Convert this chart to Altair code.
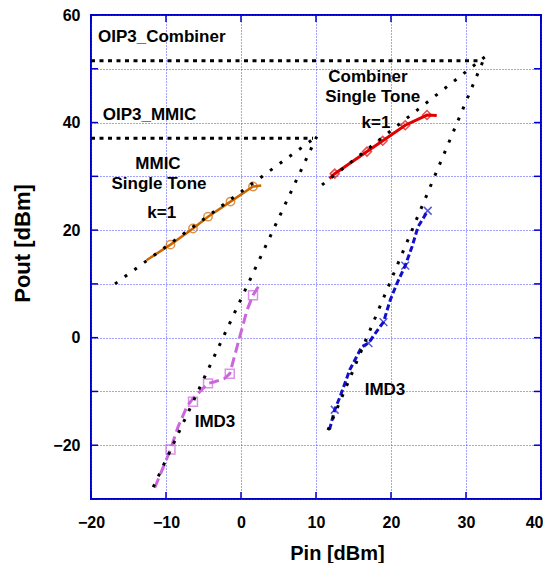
import altair as alt
import pandas as pd

FONT = "Liberation Sans"

# ---- data ----
# MMIC single tone (orange)
mmic_st_x = [-12.6, -9.4, -6.4, -4.4, -1.4, 1.6, 2.7]
mmic_st_y = [14.4, 17.3, 20.3, 22.5, 25.3, 28.1, 28.3]
mmic_st_mx = [-9.4, -6.4, -4.4, -1.4, 1.6]
mmic_st_my = [17.3, 20.3, 22.5, 25.3, 28.1]

# Combiner single tone (red)
comb_st_x = [11.8, 12.5, 16.8, 18.9, 21.9, 24.8, 26.1]
comb_st_y = [29.6, 30.5, 34.6, 36.6, 39.5, 41.4, 41.3]
comb_st_mx = [12.5, 16.8, 18.9, 21.9, 24.8]
comb_st_my = [30.5, 34.6, 36.6, 39.5, 41.4]

# MMIC IMD3 (violet)
mmic_imd_x = [-11.5, -9.4, -8.4, -7.2, -6.4, -4.4, -3.5, -2.2, -1.5, 0.8, 1.6, 2.6]
mmic_imd_y = [-27.9, -20.8, -16.6, -12.8, -11.3, -8.5, -8.2, -7.6, -6.7, 5.1, 7.9, 10.1]
mmic_imd_mx = [-9.4, -6.4, -4.4, -1.5, 1.6]
mmic_imd_my = [-20.8, -11.9, -8.5, -6.7, 7.9]

# Combiner IMD3 (blue)
comb_imd_x = [11.8, 12.5, 13.2, 14.5, 16.1, 17.0, 17.9, 19.0, 19.9, 20.8, 21.9, 22.8, 23.6, 24.9]
comb_imd_y = [-17.1, -13.4, -11.0, -6.0, -1.7, -1.0, 0.8, 2.9, 7.0, 10.1, 13.4, 16.9, 20.6, 23.6]
comb_imd_mx = [12.5, 17.0, 19.0, 21.9, 24.9]
comb_imd_my = [-13.4, -1.0, 2.9, 13.4, 23.6]

# Extrapolation (black dotted) lines: id, x, y
extra_id = ["oip3_comb", "oip3_comb", "comb_st", "comb_st", "comb_imd", "comb_imd",
            "oip3_mmic", "oip3_mmic", "mmic_st", "mmic_st", "mmic_imd", "mmic_imd"]
extra_x = [-20, 31.8, 10.8, 32.5, 11.6, 32.5, -20, 9.6, -16.8, 10.1, -11.7, 10.1]
extra_y = [51.5, 51.5, 28.4, 52.2, -17.2, 52.2, 37.1, 37.1, 10.0, 37.4, -27.8, 37.4]

# Annotations
ann_text = ["OIP3_Combiner", "OIP3_MMIC", "Combiner", "Single Tone", "k=1",
            "MMIC", "Single Tone", "k=1", "IMD3", "IMD3"]
ann_x = [-19.07, -18.44, 16.93, 17.56, 18.0, -11.07, -10.93, -10.57, -3.47, 19.2]
ann_y = [55.9, 41.4, 48.5, 44.7, 40.0, 32.3, 28.6, 23.1, -15.7, -9.8]
ann_align = ["left", "left", "center", "center", "center",
             "center", "center", "center", "center", "center"]

x_ticks = [-20, -10, 0, 10, 20, 30, 40]
y_ticks = [-30, -20, -10, 0, 10, 20, 30, 40, 50, 60]

W, H = 450, 484

xs = alt.Scale(domain=[-20, 40], nice=False, zero=False)
ys = alt.Scale(domain=[-30, 60], nice=False, zero=False)

x_axis = alt.Axis(values=x_ticks, title="Pin [dBm]", grid=True, ticks=False, tickSize=0,
                  domain=False, labelFont=FONT, labelFontSize=16, labelFontWeight="bold",
                  labelColor="black", labelPadding=15, titleFont=FONT, titleFontSize=20,
                  titleFontWeight="bold", titleColor="black", titleX=246, titleY=54,
                  titleBaseline="middle", labelFlush=False,
                  labelAlign={"condition": {"test": "datum.value == 40", "value": "right"},
                              "value": "center"},
                  labelOffset={"condition": {"test": "datum.value == 40", "value": 2},
                               "value": 0})
y_axis = alt.Axis(values=y_ticks, title="Pout [dBm]", grid=True, ticks=False, tickSize=0,
                  domain=False, labelFont=FONT, labelFontSize=16, labelFontWeight="bold",
                  labelColor="black", labelPadding=11, titleFont=FONT, titleFontSize=22,
                  titleFontWeight="bold", titleColor="black", titleX=-69, titleY=228,
                  titleBaseline="middle", labelFlush=False,
                  labelExpr="datum.value % 20 == 0 ? datum.label : ''")


def df(xv, yv):
    return pd.DataFrame({"x": xv, "y": yv})


base_axes = alt.Chart(df([0], [0])).mark_point(opacity=0).encode(
    x=alt.X("x:Q", scale=xs, axis=x_axis),
    y=alt.Y("y:Q", scale=ys, axis=y_axis),
)


def series_line(xv, yv, color, width, dash=None):
    kw = dict(color=color, strokeWidth=width, clip=True)
    if dash:
        kw["strokeDash"] = dash
    return alt.Chart(df(xv, yv)).mark_line(**kw).encode(
        x=alt.X("x:Q", scale=xs), y=alt.Y("y:Q", scale=ys), order=alt.Order("x:Q"))


def series_marks(xv, yv, color, shape, size):
    return alt.Chart(df(xv, yv)).mark_point(shape=shape, filled=False, color=color,
                                            size=size, strokeWidth=1.5).encode(
        x=alt.X("x:Q", scale=xs), y=alt.Y("y:Q", scale=ys))


orange = "#CC6600"
red = "#E00000"
violet = "#CC66DD"
blue = "#1010CC"

layers = [
    base_axes,
    series_line(mmic_st_x, mmic_st_y, orange, 2.5),
    series_marks(mmic_st_mx, mmic_st_my, orange, "circle", 70),
    series_line(comb_st_x, comb_st_y, red, 3),
    series_marks(comb_st_mx, comb_st_my, red, "diamond", 80),
    series_line(mmic_imd_x, mmic_imd_y, violet, 3, [10, 5]),
    series_marks(mmic_imd_mx, mmic_imd_my, violet, "square", 80),
    series_line(comb_imd_x, comb_imd_y, blue, 3, [6, 3]),
    series_marks(comb_imd_mx, comb_imd_my, blue, "M-1,-1L1,1M-1,1L1,-1", 60),
]

extra_df = pd.DataFrame({"id": extra_id, "x": extra_x, "y": extra_y})
horiz = extra_df[extra_df["id"].str.startswith("oip3")]
slant = extra_df[~extra_df["id"].str.startswith("oip3")]

layers.append(alt.Chart(horiz).mark_line(color="black", strokeWidth=3, strokeDash=[4, 4.5],
                                          strokeCap="butt", clip=True).encode(
    x=alt.X("x:Q", scale=xs), y=alt.Y("y:Q", scale=ys), detail="id:N"))
layers.append(alt.Chart(slant).mark_line(color="black", strokeWidth=3, strokeDash=[3, 9],
                                          strokeCap="butt", clip=True).encode(
    x=alt.X("x:Q", scale=xs), y=alt.Y("y:Q", scale=ys), detail="id:N"))

ann_df = pd.DataFrame({"t": ann_text, "x": ann_x, "y": ann_y, "a": ann_align})
for al in ["left", "center"]:
    layers.append(alt.Chart(ann_df[ann_df["a"] == al]).mark_text(
        font=FONT, fontSize=17, fontWeight="bold", color="black", align=al,
        baseline="middle").encode(
        x=alt.X("x:Q", scale=xs), y=alt.Y("y:Q", scale=ys), text="t:N"))

# inward tick marks on all four sides
tick_col = "#0000CC"
xt = pd.DataFrame({"v": x_ticks})
yt = pd.DataFrame({"v": y_ticks})
layers.append(alt.Chart(xt).mark_rule(color=tick_col, strokeWidth=1.5).encode(
    x=alt.X("v:Q", scale=xs), y=alt.value(H - 7), y2=alt.value(H)))
layers.append(alt.Chart(xt).mark_rule(color=tick_col, strokeWidth=1.5).encode(
    x=alt.X("v:Q", scale=xs), y=alt.value(0), y2=alt.value(7)))
layers.append(alt.Chart(yt).mark_rule(color=tick_col, strokeWidth=1.5).encode(
    y=alt.Y("v:Q", scale=ys), x=alt.value(0), x2=alt.value(7)))
layers.append(alt.Chart(yt).mark_rule(color=tick_col, strokeWidth=1.5).encode(
    y=alt.Y("v:Q", scale=ys), x=alt.value(W - 7), x2=alt.value(W)))

chart = alt.layer(*layers).properties(
    width=W, height=H,
    autosize=alt.AutoSizeParams(type="none"),
    padding={"left": 83, "top": 7, "right": 2, "bottom": 64},
    background="white",
).configure_view(
    stroke="#0000CC", strokeWidth=2
).configure_axis(
    gridColor="#3333FF", gridDash=[1, 2], gridWidth=1, gridOpacity=0.9
)

chart.save("out.html", embed_options={"renderer": "svg", "actions": False})
